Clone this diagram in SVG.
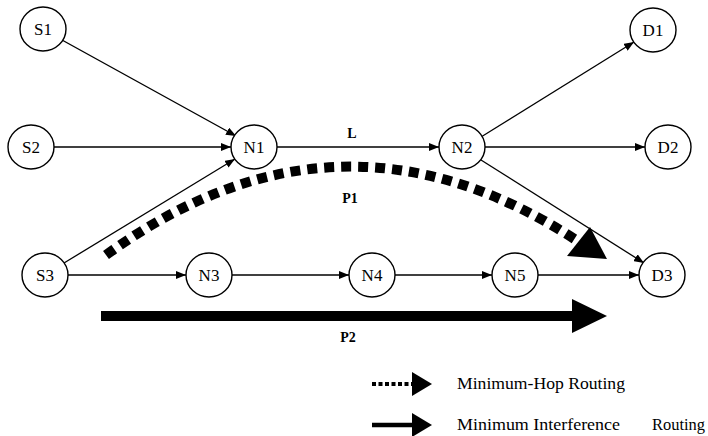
<svg xmlns="http://www.w3.org/2000/svg" width="708" height="436" viewBox="0 0 708 436">
  <style>
    .node ellipse { fill: #fff; stroke: #000; stroke-width: 1.4; }
    .node text { font-family: "Liberation Serif", "DejaVu Serif", serif; font-size: 17px; fill: #000; text-anchor: middle; dominant-baseline: central; }
    .edge { stroke: #000; stroke-width: 1.3; fill: none; marker-end: url(#tip); }
    .lbl { font-family: "Liberation Serif", "DejaVu Serif", serif; font-size: 14px; font-weight: bold; fill: #000; text-anchor: middle; }
    .legend { font-family: "Liberation Serif", "DejaVu Serif", serif; font-size: 17px; fill: #000; }
  </style>
  <defs>
    <marker id="tip" viewBox="0 0 10 8" refX="10" refY="4" markerWidth="10" markerHeight="8" markerUnits="userSpaceOnUse" orient="auto">
      <path d="M0,0 L10,4 L0,8 z" fill="#000"/>
    </marker>
  </defs>

  <!-- links -->
  <g id="connectors">
    <line class="edge" x1="62" y1="40" x2="236" y2="136"/>
    <line class="edge" x1="54" y1="147" x2="231" y2="147"/>
    <line class="edge" x1="64" y1="263" x2="235" y2="159"/>
    <line class="edge" x1="277" y1="147" x2="439" y2="147"/>
    <line class="edge" x1="481" y1="137" x2="634" y2="42"/>
    <line class="edge" x1="485" y1="147" x2="645" y2="147"/>
    <line class="edge" x1="481" y1="160" x2="644" y2="263"/>
    <line class="edge" x1="68" y1="275" x2="186" y2="275"/>
    <line class="edge" x1="232" y1="275" x2="349" y2="275"/>
    <line class="edge" x1="395" y1="275" x2="492" y2="275"/>
    <line class="edge" x1="538" y1="275" x2="639" y2="275"/>
  </g>

  <!-- routed paths -->
  <g id="paths">
    <path d="M106,255 Q340,85 579,242" fill="none" stroke="#000" stroke-width="10" stroke-dasharray="10 7"/>
    <polygon points="607,259 567,256 590,227" fill="#000"/>
    <line x1="101" y1="316" x2="574" y2="316" stroke="#000" stroke-width="10"/>
    <polygon points="572,299 607,316 572,333" fill="#000"/>
    <text class="lbl" x="352" y="138">L</text>
    <text class="lbl" x="350" y="203">P1</text>
    <text class="lbl" x="348" y="342">P2</text>
  </g>

  <g id="S1" class="node"><ellipse cx="43" cy="29" rx="23" ry="22"/><text x="43" y="29">S1</text></g>
  <g id="S2" class="node"><ellipse cx="31" cy="147" rx="23" ry="22"/><text x="31" y="147">S2</text></g>
  <g id="S3" class="node"><ellipse cx="45" cy="275" rx="23" ry="22"/><text x="45" y="275">S3</text></g>
  <g id="N1" class="node"><ellipse cx="254" cy="147" rx="23" ry="22"/><text x="254" y="147">N1</text></g>
  <g id="N2" class="node"><ellipse cx="462" cy="147" rx="23" ry="22"/><text x="462" y="147">N2</text></g>
  <g id="D1" class="node"><ellipse cx="653" cy="30" rx="23" ry="22"/><text x="653" y="30">D1</text></g>
  <g id="D2" class="node"><ellipse cx="668" cy="147" rx="23" ry="22"/><text x="668" y="147">D2</text></g>
  <g id="N3" class="node"><ellipse cx="209" cy="275" rx="23" ry="22"/><text x="209" y="275">N3</text></g>
  <g id="N4" class="node"><ellipse cx="372" cy="275" rx="23" ry="22"/><text x="372" y="275">N4</text></g>
  <g id="N5" class="node"><ellipse cx="515" cy="275" rx="23" ry="22"/><text x="515" y="275">N5</text></g>
  <g id="D3" class="node"><ellipse cx="662" cy="275" rx="23" ry="22"/><text x="662" y="275">D3</text></g>

  <!-- legend -->
  <g id="legend">
    <line x1="372" y1="384" x2="413" y2="384" stroke="#000" stroke-width="4" stroke-dasharray="4 2.5"/>
    <polygon points="412,372 432,384 412,396" fill="#000"/>
    <text class="legend" x="457" y="389" textLength="168" lengthAdjust="spacingAndGlyphs">Minimum-Hop Routing</text>
    <line x1="372" y1="425" x2="413" y2="425" stroke="#000" stroke-width="4.5"/>
    <polygon points="412,413 432,425 412,437" fill="#000"/>
    <text class="legend" x="457" y="430" textLength="163" lengthAdjust="spacingAndGlyphs">Minimum Interference</text>
    <text class="legend" x="652" y="430" textLength="53" lengthAdjust="spacingAndGlyphs">Routing</text>
  </g>
</svg>
